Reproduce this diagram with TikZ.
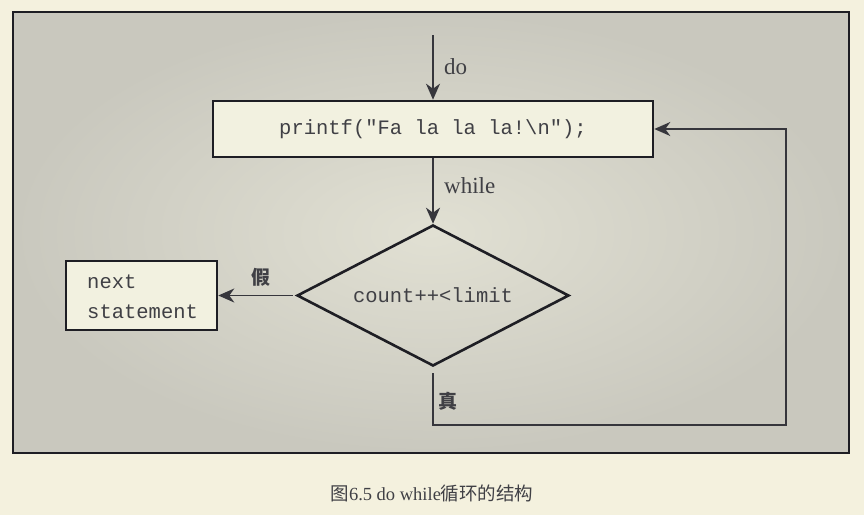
\documentclass[tikz,border=0pt]{standalone}
\usepackage{fontspec}
\setmainfont{Liberation Serif}
\setmonofont{Liberation Mono}
\newfontfamily\cjk{Noto Sans CJK SC}
\usetikzlibrary{shapes.geometric,arrows.meta}
\definecolor{pagebg}{HTML}{F4F1DE}
\definecolor{frameout}{HTML}{C9C8BE}
\definecolor{framein}{HTML}{E1E0D3}
\definecolor{boxfill}{HTML}{F2F1E0}
\definecolor{ink}{HTML}{1E1E24}
\definecolor{lineink}{HTML}{36363C}
\tikzset{
  codebox/.style={draw=ink, line width=2.6pt, fill=boxfill, inner sep=0pt},
  codetext/.style={font=\ttfamily\fontsize{20.5}{30}\selectfont, text=ink!85},
  arr/.style={draw=lineink, line width=1.5pt, line join=miter, -{Stealth[length=16pt,width=14pt,inset=5pt]}},
  lbl/.style={font=\fontsize{23}{26}\selectfont, text=ink!85, anchor=west, inner sep=0pt},
  cjklbl/.style={font=\cjk\bfseries\fontsize{19}{22}\selectfont, text=ink!85, inner sep=0pt}
}
\begin{document}
\begin{tikzpicture}[x=1pt,y=-1pt]
\useasboundingbox (0,0) rectangle (864,515);
\fill[pagebg] (0,0) rectangle (864,515);
\shade[inner color=framein, outer color=frameout] (13,12) rectangle (849,453);
\draw[ink, line width=2.4pt] (13,12) rectangle (849,453);

\coordinate (start) at (433,35);
\node[codebox, codetext, minimum width=440pt, minimum height=56pt] (box) at (433,129) {printf("Fa la la la!\textbackslash n");};
\node[diamond, draw=ink, line width=2.6pt, fill=none, inner sep=0pt, shape aspect=1.93,
      minimum width=272pt, minimum height=141pt, codetext] (dec) at (433,295.5) {count++<limit};
\node[codebox, minimum width=151pt, minimum height=69pt] (next) at (141.5,295.5) {};
\node[codetext, anchor=west, inner sep=0pt] (nt1) at (87,282) {next};
\node[codetext, anchor=west, inner sep=0pt] (nt2) at (87,312) {statement};

\draw[arr] (start) -- (box.north);
\node[lbl] (do) at (444,67) {do};
\draw[arr] (box.south) -- (dec.north);
\node[lbl] (wh) at (444,186) {while};

\draw[arr] ([xshift=-3pt]dec.west) -- (next.east);
\node[cjklbl] (jia) at (261,277) {假};

\coordinate (c1) at (433,425);
\coordinate (c2) at (786,425);
\draw[arr] ([yshift=-6pt]dec.south) -- (c1) -- (c2) |- (box.east);
\node[cjklbl] (zhen) at (448,401) {真};

\node[font=\fontsize{18.5}{20}\selectfont, text=ink!85] (cap) at (432,493) {{\cjk 图}6.5 do while{\cjk 循环的结构}};
\end{tikzpicture}
\end{document}
